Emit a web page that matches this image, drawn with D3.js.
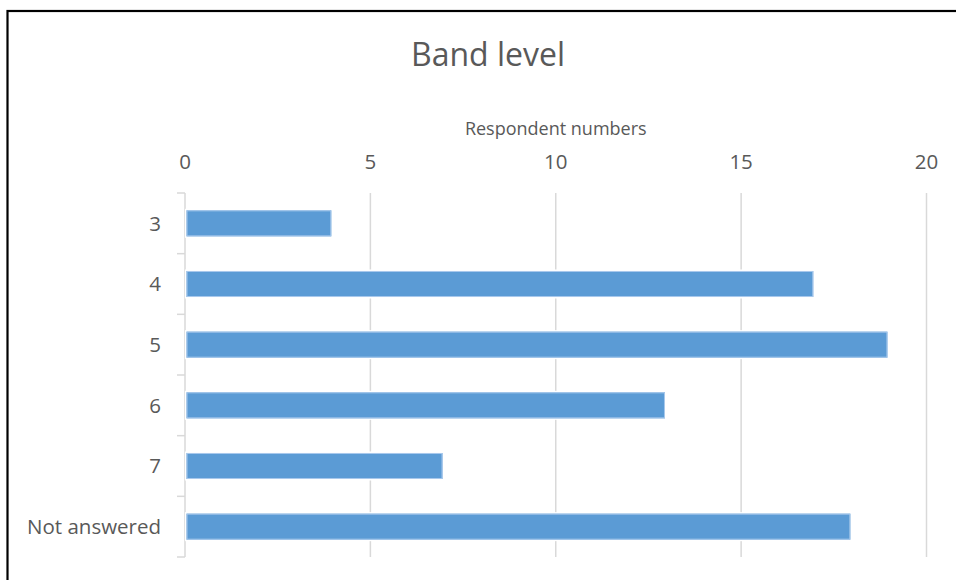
<!DOCTYPE html>
<html>
<head>
<meta charset="utf-8">
<script src="https://cdn.jsdelivr.net/npm/d3@7"></script>
<style>
  html, body { margin: 0; padding: 0; background: #fff; }
  svg { display: block; }
</style>
</head>
<body>
<svg id="chart" width="956" height="580"></svg>
<script>
const categories = ["3", "4", "5", "6", "7", "Not answered"];
const values = [4, 17, 19, 13, 7, 18];
const xTicks = [0, 5, 10, 15, 20];
const titleText = "Band level";
const axisTitle = "Respondent numbers";

const svg = d3.select("#chart");
const W = 956, H = 580;
const margin = { left: 185, right: 30, top: 193, bottom: 23 };
const plotW = 926.5 - margin.left;
const plotH = 557 - margin.top;

svg.append("rect").attr("x", 0).attr("y", 0).attr("width", W).attr("height", H).attr("fill", "#fff");
// frame
svg.append("rect").attr("x", 7.5).attr("y", 11).attr("width", 1200).attr("height", 1200)
  .attr("fill", "none").attr("stroke", "#000").attr("stroke-width", 2.2);

const font = "'Open Sans', sans-serif";
const textColor = "#595959";

const x = d3.scaleLinear().domain([0, 20]).range([0, plotW]);
const y = d3.scaleBand().domain(categories).range([0, plotH]).paddingInner(0.571).paddingOuter(0.2855);

const g = svg.append("g").attr("transform", `translate(${margin.left},${margin.top})`);

// gridlines
g.append("g").selectAll("line").data(xTicks.filter(d => d > 0)).join("line")
  .attr("x1", d => x(d)).attr("x2", d => x(d))
  .attr("y1", 0).attr("y2", plotH)
  .attr("stroke", "#d9d9d9").attr("stroke-width", 1.5);

// category axis line and ticks
g.append("line").attr("x1", 0).attr("x2", 0).attr("y1", 0).attr("y2", plotH)
  .attr("stroke", "#d9d9d9").attr("stroke-width", 1.5);
const boundaries = d3.range(categories.length + 1).map(i => i * plotH / categories.length);
g.append("g").selectAll("line").data(boundaries).join("line")
  .attr("x1", -8).attr("x2", 0)
  .attr("y1", d => d).attr("y2", d => d)
  .attr("stroke", "#d9d9d9").attr("stroke-width", 1.5);

const rows = categories.map((c, i) => ({ c, v: values[i] }));

// bars
g.append("g").selectAll("rect").data(rows).join("rect")
  .attr("x", 1.5)
  .attr("y", d => y(d.c))
  .attr("width", d => x(d.v) - 3.5)
  .attr("height", y.bandwidth())
  .attr("fill", "#5b9bd5")
  .attr("stroke", "#fff").attr("stroke-width", 3)
  .attr("paint-order", "stroke");
g.append("g").selectAll("rect").data(rows).join("rect")
  .attr("x", 2)
  .attr("y", d => y(d.c) + 0.5)
  .attr("width", d => x(d.v) - 4.5)
  .attr("height", y.bandwidth() - 1)
  .attr("fill", "none")
  .attr("stroke", "#a9c9ec").attr("stroke-width", 1);

// category labels
g.append("g").selectAll("text").data(categories).join("text")
  .attr("x", -24)
  .attr("y", d => y(d) + y.bandwidth() / 2)
  .attr("dy", "0.35em")
  .attr("text-anchor", "end")
  .attr("font-family", font).attr("font-size", 20.5).attr("fill", textColor)
  .text(d => d);

// value axis tick labels (top)
svg.append("g").selectAll("text").data(xTicks).join("text")
  .attr("x", d => margin.left + x(d))
  .attr("y", 169)
  .attr("text-anchor", "middle")
  .attr("font-family", font).attr("font-size", 20.5).attr("fill", textColor)
  .text(d => d);

// axis title
svg.append("text")
  .attr("x", margin.left + plotW / 2).attr("y", 135)
  .attr("text-anchor", "middle")
  .attr("font-family", font).attr("font-size", 18).attr("fill", textColor)
  .text(axisTitle);

// chart title
svg.append("text")
  .attr("x", 488).attr("y", 66)
  .attr("text-anchor", "middle")
  .attr("font-family", font).attr("font-size", 32).attr("fill", textColor)
  .text(titleText);
</script>
</body>
</html>
